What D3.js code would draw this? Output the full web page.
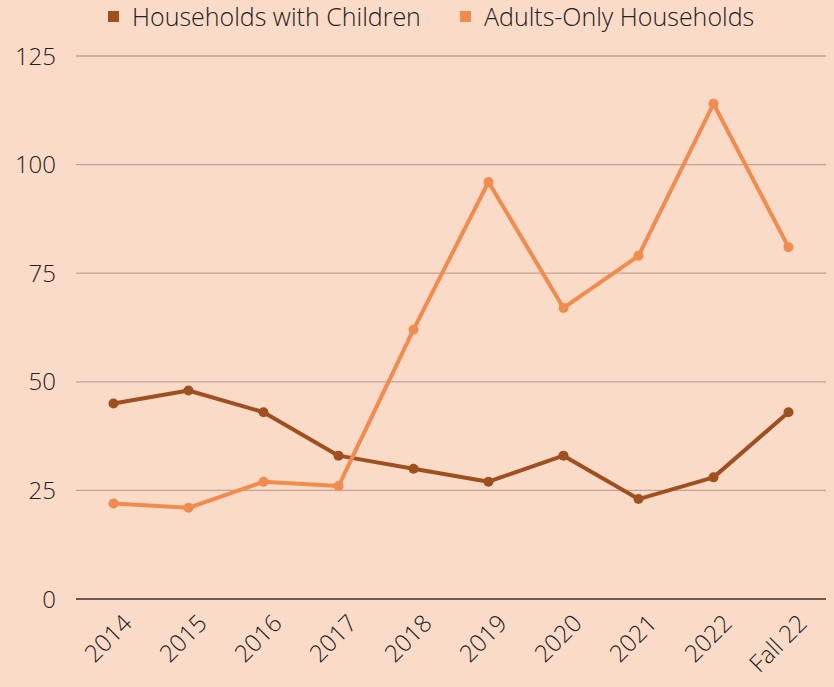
<!DOCTYPE html>
<html>
<head>
<meta charset="utf-8">
<script src="https://cdn.jsdelivr.net/npm/d3@7"></script>
<style>
  html, body { margin: 0; padding: 0; background: #fadbc8; }
  svg { display: block; font-family: "Open Sans", sans-serif; }
</style>
</head>
<body>
<div id="chart"></div>
<script>
const categories = ["2014", "2015", "2016", "2017", "2018", "2019", "2020", "2021", "2022", "Fall 22"];
const withChildren = [45, 48, 43, 33, 30, 27, 33, 23, 28, 43];
const adultsOnly = [22, 21, 27, 26, 62, 96, 67, 79, 114, 81];
const yTicks = [0, 25, 50, 75, 100, 125];
const seriesNames = ["Households with Children", "Adults-Only Households"];
const seriesColors = ["#a0501f", "#f28b4c"];

const width = 834, height = 687;
const margin = { top: 56, right: 8, bottom: 88, left: 76 };

const svg = d3.select("#chart").append("svg")
    .attr("width", width)
    .attr("height", height);

svg.append("rect")
    .attr("width", width)
    .attr("height", height)
    .attr("fill", "#fadbc8");

const x = d3.scalePoint()
    .domain(categories)
    .range([margin.left, width - margin.right])
    .padding(0.5);

const y = d3.scaleLinear()
    .domain([0, 125])
    .range([height - margin.bottom, margin.top]);

// gridlines
svg.append("g")
    .selectAll("line")
    .data(yTicks.filter(d => d > 0))
    .enter()
    .append("line")
    .attr("x1", margin.left)
    .attr("x2", width - margin.right)
    .attr("y1", d => y(d))
    .attr("y2", d => y(d))
    .attr("stroke", "#c3a294")
    .attr("stroke-width", 1.3);

// y axis labels
svg.append("g")
    .selectAll("text")
    .data(yTicks)
    .enter()
    .append("text")
    .attr("x", 56)
    .attr("y", d => y(d))
    .attr("dy", "0.36em")
    .attr("text-anchor", "end")
    .attr("font-size", 24)
    .attr("font-weight", 300)
    .attr("fill", "#222")
    .text(d => d);

// baseline
svg.append("line")
    .attr("x1", margin.left)
    .attr("x2", width - margin.right)
    .attr("y1", y(0))
    .attr("y2", y(0))
    .attr("stroke", "#6b5a52")
    .attr("stroke-width", 2);

// x labels
svg.append("g")
    .selectAll("text")
    .data(categories)
    .enter()
    .append("text")
    .attr("transform", d => `translate(${x(d) + 8}, ${y(0) + 14}) rotate(-45)`)
    .attr("text-anchor", "end")
    .attr("dy", "0.7em")
    .attr("font-size", 24)
    .attr("font-weight", 300)
    .attr("fill", "#222")
    .text(d => d);

const line = d3.line()
    .x((d, i) => x(categories[i]))
    .y(d => y(d));

[withChildren, adultsOnly].forEach((values, si) => {
    const g = svg.append("g");
    g.append("path")
        .datum(values)
        .attr("d", line)
        .attr("fill", "none")
        .attr("stroke", seriesColors[si])
        .attr("stroke-width", 4)
        .attr("stroke-linejoin", "round");
    g.selectAll("circle")
        .data(values)
        .enter()
        .append("circle")
        .attr("cx", (d, i) => x(categories[i]))
        .attr("cy", d => y(d))
        .attr("r", 5)
        .attr("fill", seriesColors[si]);
});

// legend
const legendX = [108, 460];
const legend = svg.append("g");
seriesNames.forEach((name, i) => {
    legend.append("rect")
        .attr("x", legendX[i])
        .attr("y", 11)
        .attr("width", 11)
        .attr("height", 11)
        .attr("fill", seriesColors[i]);
    legend.append("text")
        .attr("x", legendX[i] + 24)
        .attr("y", 17)
        .attr("dy", "0.36em")
        .attr("font-size", 25)
        .attr("font-weight", 300)
        .attr("fill", "#222")
        .text(name);
});
</script>
</body>
</html>
